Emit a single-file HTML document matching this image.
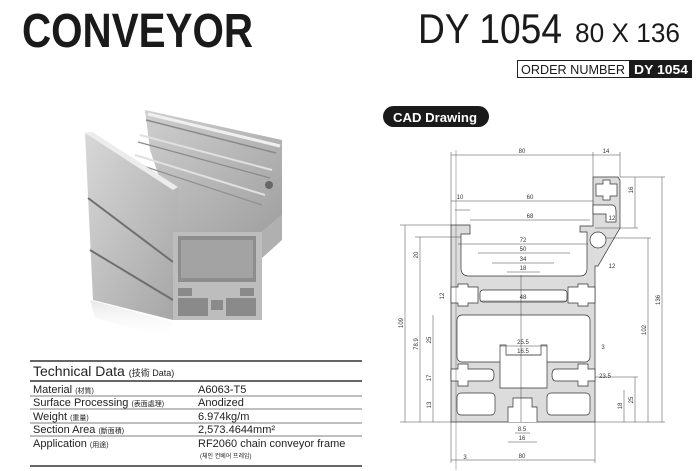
<!DOCTYPE html>
<html><head><meta charset="utf-8"><style>
html,body{margin:0;padding:0;background:#fff;}
svg{display:block;font-family:"Liberation Sans","Noto Sans CJK KR",sans-serif;}
</style></head><body>
<svg width="700" height="471" viewBox="0 0 700 471" xmlns="http://www.w3.org/2000/svg">
<defs>
<linearGradient id="gs" x1="0" y1="0" x2="1" y2="1"><stop offset="0" stop-color="#d8d8d8"/><stop offset="1" stop-color="#a5a5a5"/></linearGradient>
<linearGradient id="gt" x1="0" y1="0" x2="1" y2="1"><stop offset="0" stop-color="#cfcfcf"/><stop offset="1" stop-color="#a0a0a0"/></linearGradient>
<linearGradient id="gr" x1="0" y1="0" x2="0" y2="1"><stop offset="0" stop-color="#cfcfcf"/><stop offset="1" stop-color="#fff" stop-opacity="0"/></linearGradient>
</defs>
<text x="22" y="47" font-size="48" font-weight="bold" fill="#1a1a1a" textLength="231" lengthAdjust="spacingAndGlyphs">CONVEYOR</text>
<text x="418" y="43" font-size="42" fill="#1a1a1a" textLength="144" lengthAdjust="spacingAndGlyphs">DY 1054</text>
<text x="575" y="42" font-size="27" fill="#1a1a1a" textLength="105" lengthAdjust="spacingAndGlyphs">80 X 136</text>
<rect x="517.5" y="60.5" width="112" height="17" fill="#fff" stroke="#222"/>
<rect x="629" y="60" width="63" height="18" fill="#1a1a1a"/>
<text x="521" y="74" font-size="13" fill="#1a1a1a" textLength="104" lengthAdjust="spacingAndGlyphs">ORDER NUMBER</text>
<text x="634" y="74" font-size="13" font-weight="bold" fill="#fff" textLength="54" lengthAdjust="spacingAndGlyphs">DY 1054</text>
<rect x="383" y="106" width="106" height="21" rx="10.5" fill="#1a1a1a"/>
<text x="393" y="122" font-size="13" font-weight="bold" fill="#fff" textLength="84" lengthAdjust="spacingAndGlyphs">CAD Drawing</text>

<!-- 3D extrusion -->
<polygon points="90,300 172,322 172,340 95,318" fill="url(#gr)" opacity="0.5"/>
<!-- top interior -->
<polygon points="145,110 282,140 282,215 262,232 178,232 150,150" fill="url(#gt)"/>
<polyline points="148,114 280,146" stroke="#f0f0f0" stroke-width="3" fill="none"/>
<polyline points="146,120 276,153" stroke="#8a8a8a" stroke-width="1.5" fill="none"/>
<polyline points="140,135 272,170" stroke="#e0e0e0" stroke-width="2" fill="none"/>
<polyline points="138,142 270,178" stroke="#8a8a8a" stroke-width="1.2" fill="none"/>
<polyline points="135,155 265,195" stroke="#e0e0e0" stroke-width="2" fill="none"/>
<polyline points="140,165 262,205" stroke="#909090" stroke-width="1.2" fill="none"/>
<circle cx="269" cy="185" r="4" fill="#666"/>
<!-- right front rail -->
<polygon points="262,232 282,215 282,240 262,258" fill="#b0b0b0"/>
<!-- left face -->
<polygon points="85,133 92,132 178,187 178,232 173,232 173,320 93,300" fill="url(#gs)"/>
<polygon points="85,133 92,132 178,187 173,190" fill="#ececec"/>
<line x1="88" y1="198" x2="173" y2="262" stroke="#6f6f6f" stroke-width="2"/>
<line x1="90" y1="250" x2="173" y2="300" stroke="#6f6f6f" stroke-width="2"/>
<!-- front face -->
<polygon points="173,232 262,232 262,320 173,320" fill="#bdbdbd"/>
<rect x="178" y="236" width="78" height="46" fill="#8d8d8d"/>
<rect x="181" y="240" width="72" height="38" fill="#a3a3a3"/>
<rect x="178" y="288" width="14" height="8" fill="#8a8a8a"/>
<rect x="240" y="288" width="14" height="8" fill="#8a8a8a"/>
<rect x="178" y="298" width="30" height="18" fill="#8a8a8a"/>
<rect x="226" y="298" width="30" height="18" fill="#8a8a8a"/>
<rect x="211" y="300" width="12" height="10" fill="#8a8a8a"/>

<!-- table -->
<g fill="#222">
<line x1="30" y1="361" x2="362" y2="361" stroke="#333" stroke-width="1.5"/>
<text x="33" y="376" font-size="14">Technical Data <tspan font-size="9">(技術 Data)</tspan></text>
<line x1="30" y1="381" x2="362" y2="381" stroke="#333" stroke-width="1.5"/>
<text x="33" y="393" font-size="11">Material <tspan font-size="7">(材質)</tspan></text>
<text x="198" y="393" font-size="11">A6063-T5</text>
<line x1="30" y1="396" x2="362" y2="396" stroke="#555" stroke-width="0.7"/>
<text x="33" y="406" font-size="11">Surface Processing <tspan font-size="7">(表面處理)</tspan></text>
<text x="198" y="406" font-size="11">Anodized</text>
<line x1="30" y1="409" x2="362" y2="409" stroke="#555" stroke-width="0.7"/>
<text x="33" y="420" font-size="11">Weight <tspan font-size="7">(重量)</tspan></text>
<text x="198" y="420" font-size="11">6.974kg/m</text>
<line x1="30" y1="423" x2="362" y2="423" stroke="#555" stroke-width="0.7"/>
<text x="33" y="433" font-size="11">Section Area <tspan font-size="7">(斷面積)</tspan></text>
<text x="198" y="433" font-size="11">2,573.4644mm²</text>
<line x1="30" y1="436" x2="362" y2="436" stroke="#555" stroke-width="0.7"/>
<text x="33" y="447" font-size="11">Application <tspan font-size="7">(用途)</tspan></text>
<text x="198" y="447" font-size="11">RF2060 chain conveyor frame</text>
<text x="200" y="458" font-size="6">(체인 컨베어 프레임)</text>
<line x1="30" y1="466" x2="362" y2="466" stroke="#333" stroke-width="1.5"/>
</g>

<!-- CAD profile -->
<g stroke="#333" stroke-width="0.7">
<path d="M451,225 H470 V234 H461 V268 Q461,276 469,276 H580 Q587,276 587,268 V232 H580 V226 H593 V177 H618 L620,180 V228 L598,266 H595 V422 H451 Z" fill="#dcdcdc"/>
<path d="M596,184 H603 V180 H610 V184 H617 V196 H610 V200 H603 V196 H596 Z" fill="#fff"/>
<path d="M593,205 H612 Q616,205 616,212 V222 H606 V214 H593 Z" fill="#fff"/>
<circle cx="598" cy="240" r="8" fill="#fff"/>
<rect x="480" y="290" width="87" height="12" rx="3" fill="#fff"/>
<path d="M451,287 H458 V284 H468 V287 H478 V303 H468 V306 H458 V303 H451 Z" fill="#fff"/>
<path d="M595,287 H588 V284 H578 V287 H568 V303 H578 V306 H588 V303 H595 Z" fill="#fff"/>
<rect x="457" y="315" width="133" height="47" rx="5" fill="#fff"/>
<path d="M500,345 H506 V355 H541 V345 H547 V388 H500 Z" fill="#fff"/>
<path d="M451,369 H458 V364 H468 V369 H490 Q494,369 494,375 Q494,381 490,381 H468 V386 H458 V381 H451 Z" fill="#fff"/>
<path d="M595,369 H588 V364 H578 V369 H556 Q552,369 552,375 Q552,381 556,381 H578 V386 H588 V381 H595 Z" fill="#fff"/>
<rect x="457" y="393" width="38" height="22" rx="4" fill="#fff"/>
<rect x="547" y="393" width="43" height="22" rx="4" fill="#fff"/>
<path d="M508,422 V407 H513 V398 H532 V407 H537 V422" fill="#fff"/>
</g>
<g stroke="#444" stroke-width="0.5" fill="none">
<line x1="451" y1="155" x2="593" y2="155"/><line x1="593" y1="155" x2="620" y2="155"/>
<line x1="451" y1="152" x2="451" y2="225"/><line x1="593" y1="152" x2="593" y2="177"/><line x1="620" y1="152" x2="620" y2="177"/>
<line x1="451" y1="460" x2="595" y2="460"/><line x1="451" y1="422" x2="451" y2="463"/><line x1="595" y1="422" x2="595" y2="463"/>
<line x1="451" y1="201" x2="593" y2="201"/><line x1="455" y1="210" x2="470" y2="210"/><line x1="470" y1="220" x2="590" y2="220"/>
<line x1="458" y1="244" x2="588" y2="244"/><line x1="478" y1="253" x2="570" y2="253"/><line x1="492" y1="263" x2="554" y2="263"/><line x1="507" y1="272" x2="540" y2="272"/>
<line x1="480" y1="301" x2="567" y2="301"/>
<line x1="405" y1="225" x2="405" y2="422"/><line x1="420" y1="237" x2="420" y2="422"/><line x1="433" y1="315" x2="433" y2="422"/>
<line x1="400" y1="225" x2="451" y2="225"/><line x1="415" y1="237" x2="461" y2="237"/><line x1="400" y1="422" x2="451" y2="422"/>
<line x1="662" y1="177" x2="662" y2="422"/><line x1="648" y1="238" x2="648" y2="422"/><line x1="635" y1="377" x2="635" y2="422"/><line x1="624" y1="390" x2="624" y2="422"/>
<line x1="620" y1="177" x2="665" y2="177"/><line x1="606" y1="238" x2="651" y2="238"/><line x1="595" y1="422" x2="665" y2="422"/><line x1="595" y1="377" x2="638" y2="377"/>
<line x1="635" y1="177" x2="635" y2="228"/><line x1="595" y1="228" x2="638" y2="228"/>
<line x1="456" y1="150" x2="456" y2="470" stroke-width="0.4"/>
<line x1="521" y1="275" x2="521" y2="422"/>
<line x1="508" y1="442" x2="537" y2="442"/><line x1="515" y1="433" x2="530" y2="433"/>
<line x1="500" y1="346" x2="547" y2="346"/><line x1="506" y1="355" x2="541" y2="355"/>
</g>
<g font-size="6" fill="#333" text-anchor="middle">
<text x="522" y="153">80</text><text x="606" y="153">14</text><text x="460" y="199">10</text><text x="530" y="199">60</text>
<text x="530" y="218">68</text><text x="523" y="242">72</text><text x="523" y="251">50</text><text x="523" y="261">34</text><text x="523" y="270">18</text>
<text x="523" y="299">48</text><text x="523" y="344">25.5</text><text x="523" y="353">16.5</text><text x="522" y="440">16</text><text x="522" y="431">8.5</text>
<text x="522" y="458">80</text><text x="465" y="459">3</text><text x="603" y="349">3</text><text x="605" y="378">23.5</text><text x="612" y="220">12</text><text x="612" y="268">12</text>
<text transform="translate(403,323) rotate(-90)">109</text><text transform="translate(418,344) rotate(-90)">78.9</text>
<text transform="translate(431,340) rotate(-90)">25</text><text transform="translate(431,378) rotate(-90)">17</text><text transform="translate(431,405) rotate(-90)">13</text>
<text transform="translate(418,255) rotate(-90)">20</text><text transform="translate(444,296) rotate(-90)">12</text>
<text transform="translate(660,300) rotate(-90)">136</text><text transform="translate(646,330) rotate(-90)">102</text>
<text transform="translate(633,400) rotate(-90)">25</text><text transform="translate(622,406) rotate(-90)">18</text><text transform="translate(633,190) rotate(-90)">16</text>
</g>
</svg>
</body></html>
